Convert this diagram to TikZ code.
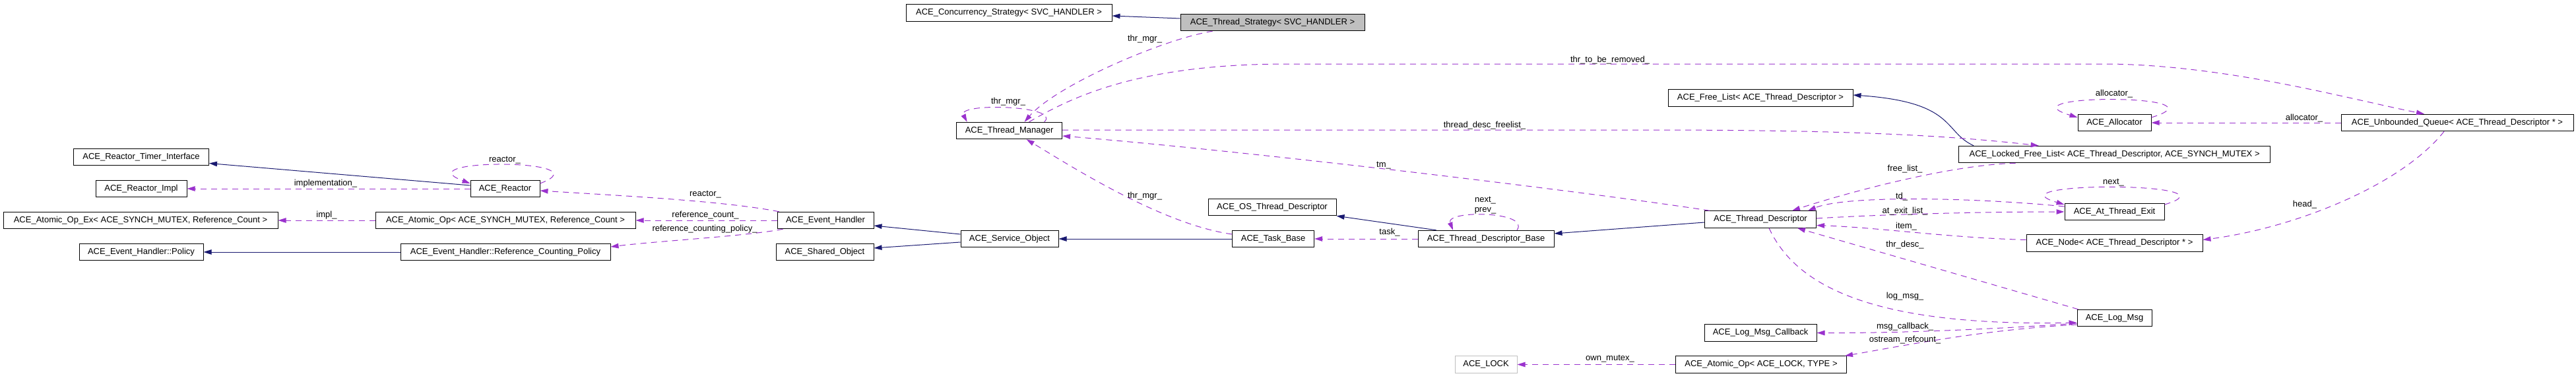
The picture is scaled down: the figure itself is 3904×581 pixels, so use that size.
\documentclass[tikz,border=0pt]{standalone}
\usepackage{fontspec}
\setmainfont{Liberation Sans}
\usetikzlibrary{arrows.meta, calc}

\definecolor{navy}{HTML}{191970}
\definecolor{orchid}{HTML}{9A32CD}
\definecolor{undoc}{HTML}{BFBFBF}

\tikzset{
	cls/.style={draw=black, line width=1pt, minimum height=25.5pt, minimum width=#1pt, inner sep=0pt, font=\fontsize{13}{15}\selectfont},
	inh/.style={draw=navy, line width=1pt, -{Triangle[length=12pt,width=7.5pt]}},
	mem/.style={draw=orchid, line width=1pt, dash pattern=on 9pt off 7pt, -{Triangle[length=12pt,width=7.5pt]}},
	lbl/.style={inner sep=0pt, font=\fontsize{13}{15}\selectfont},
}

\begin{document}
\begin{tikzpicture}[x=1pt,y=-1pt]
			\useasboundingbox (0,0) rectangle (3904,581);
			% classes
			\node[cls=205] (rti) at (214,238) {ACE\_Reactor\_Timer\_Interface};
			\node[cls=138] (rimpl) at (214,286) {ACE\_Reactor\_Impl};
			\node[cls=416] (aopex) at (213,334) {ACE\_Atomic\_Op\_Ex< ACE\_SYNCH\_MUTEX, Reference\_Count >};
			\node[cls=188] (policy) at (214,382) {ACE\_Event\_Handler::Policy};
			\node[cls=105] (reactor) at (765.5,286) {ACE\_Reactor};
			\node[cls=394] (aop) at (766,334) {ACE\_Atomic\_Op< ACE\_SYNCH\_MUTEX, Reference\_Count >};
			\node[cls=318] (rcp) at (766,382) {ACE\_Event\_Handler::Reference\_Counting\_Policy};
			\node[cls=146] (eh) at (1251,334) {ACE\_Event\_Handler};
			\node[cls=148] (shared) at (1250,382) {ACE\_Shared\_Object};
			\node[cls=148] (svc) at (1530,362) {ACE\_Service\_Object};
			\node[cls=312] (conc) at (1529,19.5) {ACE\_Concurrency\_Strategy< SVC\_HANDLER >};
			\node[cls=279, fill=undoc] (tstrat) at (1928.5,34) {ACE\_Thread\_Strategy< SVC\_HANDLER >};
			\node[cls=160] (tmgr) at (1529.6,198) {ACE\_Thread\_Manager};
			\node[cls=124] (tbase) at (1929.6,362) {ACE\_Task\_Base};
			\node[cls=194] (ostd) at (1928,314) {ACE\_OS\_Thread\_Descriptor};
			\node[cls=206] (tdb) at (2252,362) {ACE\_Thread\_Descriptor\_Base};
			\node[cls=94, draw=undoc] (lock) at (2252,552.5) {ACE\_LOCK};
			\node[cls=169] (td) at (2668,332.5) {ACE\_Thread\_Descriptor};
			\node[cls=170] (cb) at (2668,504.5) {ACE\_Log\_Msg\_Callback};
			\node[cls=259] (aoplock) at (2669,552.5) {ACE\_Atomic\_Op< ACE\_LOCK, TYPE >};
			\node[cls=280] (flist) at (2668,148.5) {ACE\_Free\_List< ACE\_Thread\_Descriptor >};
			\node[cls=472] (lfl) at (3204.6,234) {ACE\_Locked\_Free\_List< ACE\_Thread\_Descriptor, ACE\_SYNCH\_MUTEX >};
			\node[cls=111] (alloc) at (3204.5,186) {ACE\_Allocator};
			\node[cls=151] (ate) at (3204.5,321) {ACE\_At\_Thread\_Exit};
			\node[cls=267] (tnode) at (3204.5,368.5) {ACE\_Node< ACE\_Thread\_Descriptor * >};
			\node[cls=113] (lmsg) at (3204.5,482) {ACE\_Log\_Msg};
			\node[cls=352] (uq) at (3724,186) {ACE\_Unbounded\_Queue< ACE\_Thread\_Descriptor * >};
			% inheritance
			\draw[inh] ($(tstrat.west)+(0,-6)$) -- ($(conc.east)+(0,4.5)$);
			\draw[inh] ($(reactor.west)+(0,-5)$) -- ($(rti.east)+(0,9.5)$);
			\draw[inh] (rcp.west) -- (policy.east);
			\draw[inh] ($(svc.west)+(0,-7)$) -- ($(eh.east)+(0,8)$);
			\draw[inh] ($(svc.west)+(0,5)$) -- ($(shared.east)+(0,-6)$);
			\draw[inh] (tbase.west) -- (svc.east);
			\draw[inh] ($(tdb.north west)+(28,0)$) -- (ostd.south east);
			\draw[inh] ($(td.west)+(0,4.5)$) -- ($(tdb.east)+(0,-8)$);
			\draw[inh] ($(lfl.north west)+(23,0)$) .. controls (2945,200) and (2965,155) .. ($(flist.east)+(0,-4.5)$);
			% members
			\draw[mem] ($(tstrat.south)+(-91,0)$) .. controls (1760,60) and (1600,130) .. ($(tmgr.north)+(23,0)$);
			\draw[mem] ($(tmgr.north)+(53,0)$) .. controls (1610,160) and (1450,155) .. ($(tmgr.north)+(-64,0)$);
			\draw[mem] ($(td.north west)+(8,0)$) .. controls (2400,290) and (1900,230) .. ($(tmgr.east)+(0,8)$);
			\draw[mem] ($(tmgr.north)+(30,0)$) .. controls (1620,150) and (1720,97) .. (1950,97) -- (3200,97) .. controls (3380,100) and (3560,150) .. ($(uq.north)+(-50,0)$);
			\draw[mem] ($(tmgr.east)+(0,-1)$) -- (2500,197) .. controls (2800,197) and (2950,205) .. ($(lfl.north)+(-115,0)$);
			\draw[mem] ($(lfl.south)+(-150,0)$) .. controls (2950,250) and (2790,295) .. ($(td.north)+(48,0)$);
			\draw[mem] ($(ate.west)+(0,-8)$) .. controls (3000,300) and (2800,295) .. ($(td.north)+(72,0)$);
			\draw[mem] ($(td.east)+(0,-1.5)$) .. controls (2850,325) and (3000,321) .. (ate.west);
			\draw[mem] ($(ate.east)+(0,-11)$) .. controls (3400,275) and (3010,275) .. ($(ate.west)+(0,-11)$);
			\draw[mem] ($(tnode.west)+(0,-5)$) .. controls (2950,360) and (2850,345) .. ($(td.east)+(0,9)$);
			\draw[mem] ($(lmsg.north west)+(2,0)$) -- ($(td.south)+(56,0)$);
			\draw[mem] ($(td.south)+(13,0)$) .. controls (2720,430) and (2830,495) .. ($(lmsg.west)+(0,7)$);
			\draw[mem] ($(lmsg.west)+(0,8)$) .. controls (3050,497) and (2900,505) .. (cb.east);
			\draw[mem] ($(lmsg.west)+(0,10)$) .. controls (3000,500) and (2880,525) .. ($(aoplock.north east)+(-3,0)$);
			\draw[mem] (aoplock.west) -- (lock.east);
			\draw[mem] ($(alloc.east)+(0,-8)$) .. controls (3380,142) and (3030,142) .. ($(alloc.west)+(0,-8)$);
			\draw[mem] (uq.west) -- (alloc.east);
			\draw[mem] ($(uq.south)+(-20,0)$) .. controls (3640,280) and (3480,345) .. ($(tnode.east)+(0,-5)$);
			\draw[mem] ($(reactor.east)+(0,-8)$) .. controls (920,240) and (610,240) .. ($(reactor.west)+(0,-8)$);
			\draw[mem] (reactor.west) -- (rimpl.east);
			\draw[mem] ($(eh.north west)+(3,0)$) .. controls (1100,305) and (950,297) .. ($(reactor.east)+(0,3)$);
			\draw[mem] (eh.west) -- (aop.east);
			\draw[mem] ($(eh.south west)+(9,0)$) .. controls (1130,358) and (1000,365) .. ($(rcp.east)+(0,-8)$);
			\draw[mem] (aop.west) -- (aopex.east);
			\draw[mem] ($(tbase.west)+(0,-7)$) .. controls (1760,340) and (1620,250) .. ($(tmgr.south)+(26,0)$);
			\draw[mem] (tdb.west) -- (tbase.east);
			\draw[mem] ($(tdb.north)+(47,0)$) .. controls (2320,320) and (2190,318) .. ($(tdb.north)+(-50,0)$);
			% labels
			\node[lbl] (thrmgr1) at (1735,59) {thr\_mgr\_};
			\node[lbl] (thrmgr2) at (1528,154) {thr\_mgr\_};
			\node[lbl] (tm) at (2097,251) {tm\_};
			\node[lbl] (removed) at (2440,91) {thr\_to\_be\_removed\_};
			\node[lbl] (freelist1) at (2250,190) {thread\_desc\_freelist\_};
			\node[lbl] (freelist2) at (2887,256) {free\_list\_};
			\node[lbl] (tdl) at (2882,298) {td\_};
			\node[lbl] (atexit) at (2887,320) {at\_exit\_list\_};
			\node[lbl] (next1) at (3203,277) {next\_};
			\node[lbl] (item) at (2889,342.7) {item\_};
			\node[lbl] (thrdesc) at (2887,370.7) {thr\_desc\_};
			\node[lbl] (logmsg) at (2887,449) {log\_msg\_};
			\node[lbl] (msgcb) at (2887,495) {msg\_callback\_};
			\node[lbl] (refcount) at (2887,515) {ostream\_refcount\_};
			\node[lbl] (mutex) at (2440,544) {own\_mutex\_};
			\node[lbl] (alloc1) at (3204,142) {allocator\_};
			\node[lbl] (alloc2) at (3492,179) {allocator\_};
			\node[lbl] (head) at (3493,310) {head\_};
			\node[lbl] (reactor1) at (765,243) {reactor\_};
			\node[lbl] (implem) at (493.5,278) {implementation\_};
			\node[lbl] (reactor2) at (1069,295) {reactor\_};
			\node[lbl] (refcnt) at (1069,326) {reference\_count\_};
			\node[lbl] (refpol) at (1068,346.7) {reference\_counting\_policy\_};
			\node[lbl] (impl) at (495,326) {impl\_};
			\node[lbl] (thrmgr3) at (1735,296.7) {thr\_mgr\_};
			\node[lbl] (task) at (2106,352) {task\_};
			\node[lbl, align=center] (nextprev) at (2251,311.5) {next\_\\prev\_};
\end{tikzpicture}
\end{document}
